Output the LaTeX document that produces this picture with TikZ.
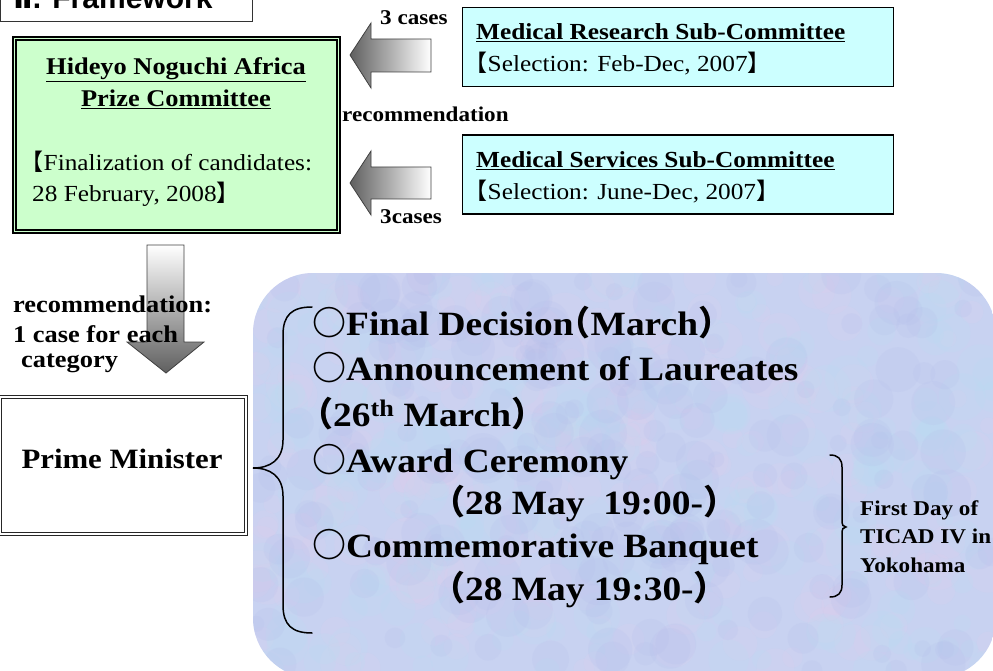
\documentclass[tikz,border=0pt]{standalone}
\usepackage{fontspec}
\setmainfont{Liberation Serif}[FakeStretch=1.1]
\newfontfamily\headfont{Liberation Sans}
\newfontfamily\numfont{DejaVu Sans}
\newfontfamily\cjk{Noto Sans CJK JP}[CharacterWidth=AlternateHalf]
\newfontfamily\cjkfull{Noto Sans CJK JP}
\definecolor{greenbox}{RGB}{204,255,204}
\definecolor{cyanbox}{RGB}{204,255,255}
\definecolor{bubble}{RGB}{200,210,241}
\definecolor{spotA}{RGB}{226,204,236}
\definecolor{spotB}{RGB}{184,224,244}
\definecolor{spotC}{RGB}{178,188,234}
\begin{document}
\begin{tikzpicture}[x=1pt,y=-1pt,
	subbox/.style={draw,line width=1.3pt,fill=cyanbox,minimum width=431pt,minimum height=79pt},
	txt/.style={inner sep=0pt,anchor=base west},
	lbl/.style={txt,font=\fontsize{21}{25}\selectfont\bfseries},
	mid/.style={txt,font=\fontsize{23}{28}\selectfont},
	big/.style={txt,font=\fontsize{34}{40}\selectfont\bfseries},
	blockarrow/.style={draw=black!75,line width=0.8pt},
	brace/.style={line width=1.5pt,line cap=round}]
	\useasboundingbox (0,0) rectangle (993,671);
	\node[draw=black!80,line width=1.3pt,minimum width=252pt,minimum height=40pt,anchor=south west] (frame) at (0,22) {};
	\node[txt,font=\headfont\fontsize{30}{36}\selectfont\bfseries] (title) at (13,9) {{\numfont Ⅱ}. Framework};
	\node[draw,line width=1.6pt,double=greenbox,double distance=1.8pt,fill=greenbox,minimum width=324pt,minimum height=193pt] (hnc) at (176.5,135) {};
	\node[mid,anchor=base,font=\fontsize{24}{28}\selectfont\bfseries] (hncA) at (176,75) {\underline{Hideyo Noguchi Africa}};
	\node[mid,anchor=base,font=\fontsize{24}{28}\selectfont\bfseries] (hncB) at (176,107) {\underline{Prize Committee}};
	\node[mid] (hncC) at (32,171) {{\cjk 【}Finalization of candidates:};
	\node[mid] (hncD) at (32,202) {28 February, 2008{\cjk 】}};
	\node[subbox] (mrs) at (678,47) {};
	\node[mid,font=\fontsize{23}{28}\selectfont\bfseries] (mrsA) at (476,40) {\underline{Medical Research Sub-Committee}};
	\node[mid] (mrsB) at (476,72) {{\cjk 【}Selection: Feb-Dec, 2007{\cjk 】}};
	\node[subbox] (mss) at (678,174.5) {};
	\node[mid,font=\fontsize{23}{28}\selectfont\bfseries] (mssA) at (476,168) {\underline{Medical Services Sub-Committee}};
	\node[mid] (mssB) at (476,200) {{\cjk 【}Selection: June-Dec, 2007{\cjk 】}};
	\draw[blockarrow,left color=gray!75!black,right color=white] (350,55) -- (371,23) -- (371,39) -- (431,39) -- (431,72) -- (371,72) -- (371,88) -- cycle;
	\draw[blockarrow,left color=gray!75!black,right color=white] (350,183) -- (371,151) -- (371,167) -- (431,167) -- (431,199) -- (371,199) -- (371,215) -- cycle;
	\node[lbl] (cs1) at (380,25) {3 cases};
	\node[lbl] (rec) at (342,122) {recommendation};
	\node[lbl] (cs2) at (380,223) {3cases};
	\draw[blockarrow,top color=white,bottom color=gray!75!black] (147,245) -- (184,245) -- (184,342) -- (204,342) -- (166,373) -- (127,342) -- (147,342) -- cycle;
	\node[txt,font=\fontsize{24}{28}\selectfont\bfseries] (recA) at (13,312) {recommendation:};
	\node[txt,font=\fontsize{24}{28}\selectfont\bfseries] (recB) at (13,342) {1 case for each};
	\node[txt,font=\fontsize{24}{28}\selectfont\bfseries] (recC) at (21,367) {category};
	\node[draw=black!85,line width=0.8pt,double,double distance=1.6pt,minimum width=246pt,minimum height=137pt] (pm) at (123,465.5) {};
	\node[inner sep=0pt,anchor=base,font=\fontsize{28}{34}\selectfont\bfseries] (pmA) at (122,468) {Prime Minister};
	\begin{scope}
		\clip[rounded corners=60pt] (253,273) rectangle (996,678);
		\fill[bubble] (253,273) rectangle (996,678);
		\pgfmathsetseed{11}
		\foreach \col in {spotA,spotB,spotC}{
			\foreach \i in {1,...,220}{
				\fill[\col,opacity=0.16] (253+743*rnd,273+400*rnd) circle[radius={(8+16*rnd)*1pt}];
			}
		}
	\end{scope}
	\draw[brace] (312,307) .. controls (292,307) and (283,315) .. (283,335) -- (283,440) .. controls (283,460) and (270,468) .. (253,468) .. controls (270,468) and (283,476) .. (283,496) -- (283,605) .. controls (283,625) and (292,633) .. (312,633);
	\node[big] (dec) at (312,335) {{\cjkfull ○}Final Decision{\cjk （}March{\cjk ）}};
	\node[big] (ann) at (312,380) {{\cjkfull ○}Announcement of Laureates};
	\node[big] (annB) at (316,426) {{\cjk （}26\textsuperscript{th} March{\cjk ）}};
	\node[big] (cer) at (312,472) {{\cjkfull ○}Award Ceremony};
	\node[big] (cerB) at (448,514) {{\cjk （}28 May~~19:00-{\cjk ）}};
	\node[big] (ban) at (312,557) {{\cjkfull ○}Commemorative Banquet};
	\node[big] (banB) at (448,600) {{\cjk （}28 May 19:30-{\cjk ）}};
	\draw[brace] (830,455) .. controls (838,455) and (842,459) .. (842,467) -- (842,520) .. controls (842,525) and (843,527) .. (846,527) .. controls (843,527) and (842,529) .. (842,534) -- (842,585) .. controls (842,593) and (838,597) .. (830,597);
	\node[lbl] (ticA) at (860,515) {First Day of};
	\node[lbl] (ticB) at (860,543) {TICAD IV in};
	\node[lbl] (ticC) at (860,572) {Yokohama};
\end{tikzpicture}
\end{document}
